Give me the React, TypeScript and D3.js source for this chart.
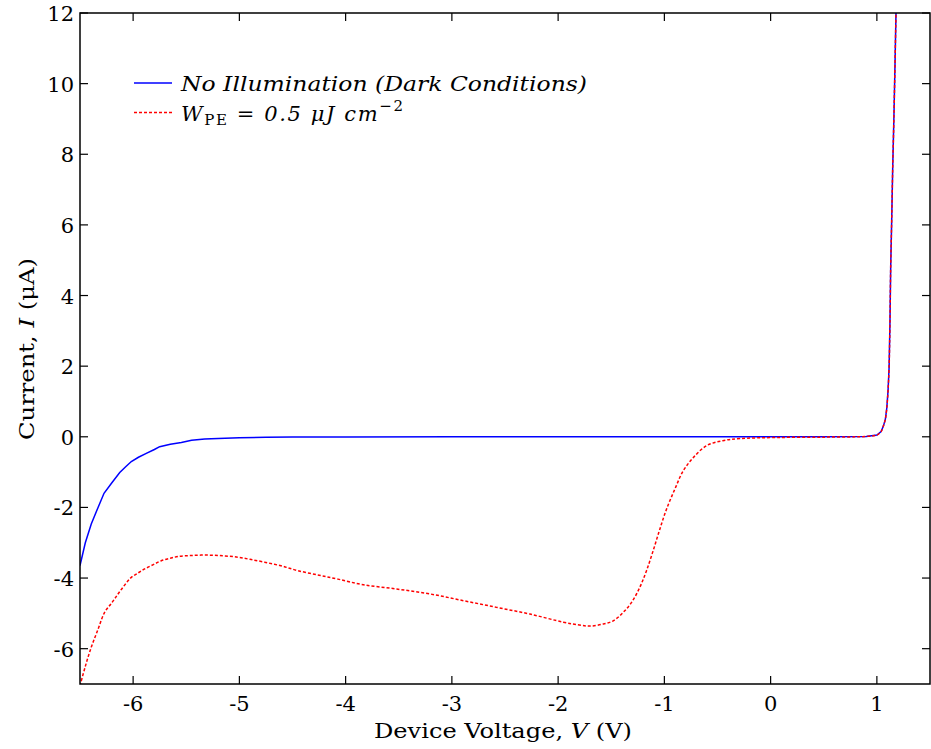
import React from "react";
import * as d3 from "d3";

const xTicks = [-6, -5, -4, -3, -2, -1, 0, 1];
const yTicks = [-6, -4, -2, 0, 2, 4, 6, 8, 10, 12];

const darkV = [-6.5, -6.45, -6.394, -6.33, -6.274, -6.2, -6.126, -6.07, -6.017, -5.95, -5.876, -5.8, -5.75, -5.65, -5.546, -5.45, -5.326, -5.2, -5.0, -4.75, -4.5, -4.0, -3.0, -2.0, -1.0, 0.0, 0.5, 0.9, 1.0, 1.04, 1.062, 1.08, 1.093, 1.105, 1.115, 1.123, 1.13, 1.14, 1.149, 1.16, 1.17, 1.18, 1.19];
const darkI = [-3.65, -3.0, -2.47, -2.0, -1.6, -1.3, -1.01, -0.85, -0.7, -0.58, -0.47, -0.36, -0.28, -0.21, -0.16, -0.1, -0.065, -0.045, -0.03, -0.015, -0.008, -0.004, 0, 0, 0, 0, 0, 0.01, 0.05, 0.15, 0.31, 0.5, 0.8, 1.3, 1.96, 3.2, 4.79, 6.2, 7.62, 9.0, 10.45, 12.0, 13.5];

const illumV = [-6.5, -6.45, -6.394, -6.33, -6.268, -6.2, -6.142, -6.08, -6.017, -5.95, -5.891, -5.81, -5.735, -5.65, -5.578, -5.45, -5.296, -5.15, -5.014, -4.9, -4.763, -4.6, -4.45, -4.25, -4.073, -3.833, -3.52, -3.206, -2.892, -2.579, -2.265, -1.951, -1.8, -1.7, -1.575, -1.481, -1.387, -1.309, -1.231, -1.168, -1.105, -1.042, -0.98, -0.901, -0.822, -0.728, -0.602, -0.45, -0.287, 0.06, 0.5, 0.9, 1.0, 1.04, 1.062, 1.08, 1.093, 1.105, 1.115, 1.123, 1.13, 1.14, 1.149, 1.16, 1.17, 1.18, 1.19];
const illumI = [-7.05, -6.5, -5.96, -5.45, -4.97, -4.7, -4.45, -4.2, -3.98, -3.85, -3.74, -3.62, -3.51, -3.44, -3.39, -3.36, -3.35, -3.37, -3.41, -3.47, -3.55, -3.66, -3.79, -3.92, -4.03, -4.19, -4.31, -4.45, -4.64, -4.83, -5.02, -5.25, -5.33, -5.36, -5.3, -5.21, -4.97, -4.69, -4.26, -3.79, -3.22, -2.61, -2.05, -1.48, -0.96, -0.59, -0.25, -0.11, -0.05, -0.02, -0.01, 0.01, 0.05, 0.15, 0.31, 0.5, 0.8, 1.3, 1.96, 3.2, 4.79, 6.2, 7.62, 9.0, 10.45, 12.0, 13.5];

const W = 931;
const H = 749;
const L = 80, R = 930, T = 13, B = 684;
const FONT = "'DejaVu Serif', serif";
const FS = 21;

export default function App() {
  const x = d3.scaleLinear().domain([-6.5, 1.5]).range([L, R]);
  const y = d3.scaleLinear().domain([-7, 12]).range([B, T]);
  const line = d3
    .line<[number, number]>()
    .x((d) => x(d[0]))
    .y((d) => y(d[1]));
  const smooth = d3
    .line<[number, number]>()
    .x((d) => x(d[0]))
    .y((d) => y(d[1]))
    .curve(d3.curveCatmullRom.alpha(0.5));
  const dark: [number, number][] = darkV.map((v, i) => [v, darkI[i]]);
  const illum: [number, number][] = illumV.map((v, i) => [v, illumI[i]]);
  const tl = 8;

  return (
    <svg
      width={W}
      height={H}
      style={{ position: "absolute", left: 0, top: 0, background: "#fff", fontFamily: FONT }}
    >
      <defs>
        <clipPath id="plot">
          <rect x={L} y={T} width={R - L} height={B - T} />
        </clipPath>
      </defs>
      <rect x={0} y={0} width={W} height={H} fill="#fff" />
      <g clipPath="url(#plot)" fill="none">
        <path d={line(dark) || ""} stroke="#0000ff" strokeWidth={1.5} />
        <path d={smooth(illum) || ""} stroke="#ff0000" strokeWidth={1.5} strokeDasharray="3 2" />
      </g>
      <g stroke="#000" strokeWidth={1.2}>
        {xTicks.map((t) => (
          <g key={"xt" + t}>
            <line x1={x(t)} x2={x(t)} y1={B} y2={B - tl} />
            <line x1={x(t)} x2={x(t)} y1={T} y2={T + tl} />
          </g>
        ))}
        {yTicks.map((t) => (
          <g key={"yt" + t}>
            <line x1={L} x2={L + tl} y1={y(t)} y2={y(t)} />
            <line x1={R} x2={R - tl} y1={y(t)} y2={y(t)} />
          </g>
        ))}
      </g>
      <rect x={L} y={T} width={R - L} height={B - T} fill="none" stroke="#000" strokeWidth={1.5} />
      <g fontSize={FS} fill="#000">
        {xTicks.map((t) => (
          <text key={"xl" + t} x={x(t)} y={711} textAnchor="middle">
            {String(t)}
          </text>
        ))}
        {yTicks.map((t) => (
          <text key={"yl" + t} x={74} y={y(t) + 8} textAnchor="end">
            {String(t)}
          </text>
        ))}
      </g>
      <text x={503} y={738} fontSize={FS} textAnchor="middle" fill="#000" textLength={258} lengthAdjust="spacingAndGlyphs">
        Device Voltage, <tspan fontStyle="italic">V</tspan> (V)
      </text>
      <text
        transform={`translate(34, 349) rotate(-90)`}
        fontSize={FS}
        textAnchor="middle"
        fill="#000"
        textLength={182}
        lengthAdjust="spacingAndGlyphs"
      >
        Current, <tspan fontStyle="italic">I</tspan> (μA)
      </text>
      <line x1={134} x2={172} y1={83} y2={83} stroke="#0000ff" strokeWidth={1.5} />
      <line x1={134} x2={172} y1={112.5} y2={112.5} stroke="#ff0000" strokeWidth={1.5} strokeDasharray="3 2" />
      <text x={181} y={91} fontSize={FS} fontStyle="italic" fill="#000" textLength={406} lengthAdjust="spacingAndGlyphs">
        No Illumination (Dark Conditions)
      </text>
      <text x={181} y={121} fontSize={FS} fill="#000" textLength={222} lengthAdjust="spacing">
        <tspan fontStyle="italic">W</tspan>
        <tspan fontSize={15} dy={4}>PE</tspan>
        <tspan dy={-4}> = </tspan>
        <tspan fontStyle="italic">0.5 μJ cm</tspan>
        <tspan fontSize={15} dy={-10}>−2</tspan>
      </text>
    </svg>
  );
}
